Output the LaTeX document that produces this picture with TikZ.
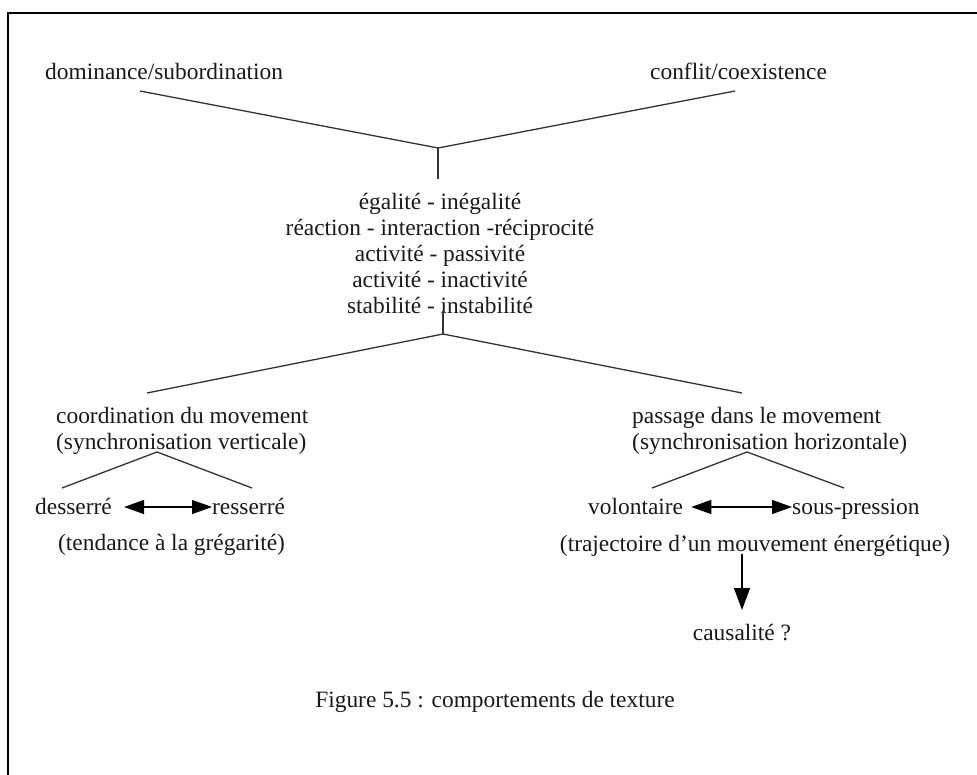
\documentclass[tikz,border=0pt]{standalone}
\usepackage{fontspec}
\setmainfont{Liberation Serif}
\usetikzlibrary{arrows.meta}
\begin{document}
\begin{tikzpicture}[x=1pt,y=-1pt,
  lbl/.style={inner sep=0pt, text=black!90, font=\fontsize{23.4}{26}\selectfont},
  tline/.style={line width=1.3pt, draw=black!80},
  frameline/.style={line width=2.2pt, draw=black},
  dblarrow/.style={line width=1.3pt, draw=black,
    {Triangle[length=20pt,width=14pt]}-{Triangle[length=20pt,width=14pt]}},
  downarrow/.style={line width=1.3pt, draw=black, -{Triangle[length=22pt,width=16pt]}}]
\useasboundingbox (0,0) rectangle (977,775);
\fill[white] (0,0) rectangle (977,775);
\draw[frameline] (8,775) -- (8,13) -- (977,13);

% top labels
\node[lbl, anchor=base west] (dom) at (45,80) {dominance/subordination};
\node[lbl, anchor=base west] (con) at (650,80) {conflit/coexistence};
\coordinate (dl) at (140,91);
\coordinate (cl) at (735,91);
\coordinate (v1) at (438,148);
\coordinate (v1b) at (438,179);
\draw[tline] (dl) -- (v1) -- (cl);
\draw[tline] (v1) -- (v1b);

% middle block
\node[lbl, align=center] (mid) at (440,253) {égalité - inégalité\\réaction - interaction -réciprocité\\activité - passivité\\activité - inactivité\\stabilité - instabilité};

\coordinate (v2a) at (443,311);
\coordinate (v2) at (443,334);
\coordinate (l1) at (147,393);
\coordinate (r1) at (742,393);
\draw[tline] (v2a) -- (v2);
\draw[tline] (l1) -- (v2) -- (r1);

% left subtree
\node[lbl, align=left, anchor=west] (coord) at (56,431) {coordination du movement\\(synchronisation verticale)};
\coordinate (v3) at (157,452);
\coordinate (l3a) at (62,488);
\coordinate (l3b) at (252,488);
\draw[tline] (l3a) -- (v3) -- (l3b);
\node[lbl, anchor=base west] (dess) at (35,514) {desserré};
\node[lbl, anchor=base west] (ress) at (212,514) {resserré};
\draw[dblarrow] ([shift={(12,-7)}]dess.base east) -- ([shift={(0,-7)}]ress.base west);
\node[lbl, anchor=base west] (tend) at (58,550) {(tendance à la grégarité)};

% right subtree
\node[lbl, align=left, anchor=west] (pass) at (632,431) {passage dans le movement\\(synchronisation horizontale)};
\coordinate (v4) at (747,452);
\coordinate (r4a) at (652,488);
\coordinate (r4b) at (844,488);
\draw[tline] (r4a) -- (v4) -- (r4b);
\node[lbl, anchor=base west] (vol) at (588,514) {volontaire};
\node[lbl, anchor=base west] (sous) at (792,514) {sous-pression};
\draw[dblarrow] ([shift={(8,-7)}]vol.base east) -- ([shift={(0,-7)}]sous.base west);
\node[lbl, anchor=base] (traj) at (755,551) {(trajectoire d’un mouvement énergétique)};
\coordinate (da) at (742,554);
\coordinate (db) at (742,610);
\draw[downarrow] (da) -- (db);
\node[lbl, anchor=base] (caus) at (742,640) {causalité ?};

% caption
\node[lbl, anchor=base] (cap) at (495,707) {Figure 5.5 : comportements de texture};
\end{tikzpicture}
\end{document}
